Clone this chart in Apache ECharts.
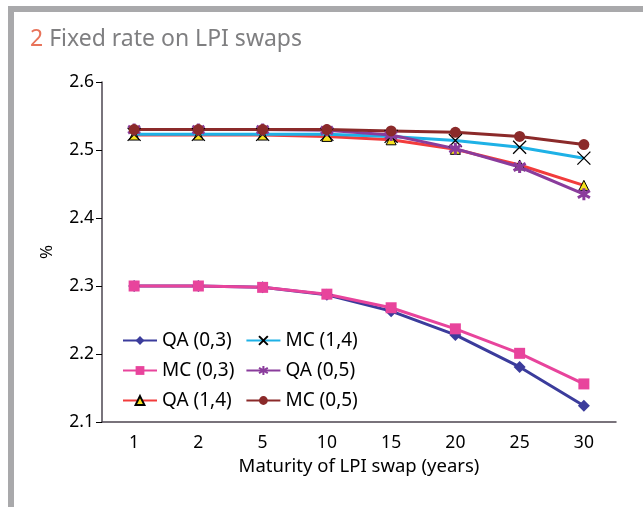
<!DOCTYPE html>
<html>
<head>
<meta charset="utf-8">
<script src="https://cdn.jsdelivr.net/npm/echarts@6/dist/echarts.min.js"></script>
<style>
  html, body { margin: 0; padding: 0; background: #fff; }
  #chart { width: 643px; height: 507px; }
</style>
</head>
<body>
<div id="chart"></div>
<script>
// maturities (years)
var maturities = ['1', '2', '5', '10', '15', '20', '25', '30'];

// fixed rate, %
var qa03 = [2.300, 2.300, 2.298, 2.287, 2.263, 2.228, 2.181, 2.124];
var mc03 = [2.300, 2.300, 2.298, 2.288, 2.268, 2.237, 2.201, 2.156];
var qa14 = [2.522, 2.522, 2.522, 2.520, 2.515, 2.501, 2.478, 2.448];
var mc14 = [2.523, 2.523, 2.523, 2.523, 2.520, 2.514, 2.504, 2.488];
var qa05 = [2.530, 2.530, 2.530, 2.529, 2.522, 2.502, 2.475, 2.435];
var mc05 = [2.530, 2.530, 2.530, 2.530, 2.528, 2.526, 2.520, 2.508];

var FONT = 'Noto Sans';

var crossPath = 'path://M0,0L10,10M10,0L0,10';
var starPath = 'path://M5,0L5,10M0,2L10,8M10,2L0,8';

function mk(name, data, color, symbol, size, itemStyle) {
    return {
        name: name,
        type: 'line',
        data: data,
        symbol: symbol,
        symbolSize: size,
        lineStyle: { color: color, width: 3 },
        itemStyle: itemStyle || { color: color },
        emphasis: { disabled: true }
    };
}

var chart = echarts.init(document.getElementById('chart'));

chart.setOption({
    animation: false,
    textStyle: { fontFamily: FONT },
    title: {
        text: '{n|2} Fixed rate on LPI swaps',
        left: 25,
        top: 23,
        textStyle: {
            fontSize: 23,
            fontWeight: 'normal',
            color: '#7f7f81',
            fontFamily: FONT,
            rich: { n: { fontSize: 23, color: '#e8735a', fontFamily: FONT } }
        }
    },
    graphic: [
        { type: 'rect', shape: { x: 8, y: 6, width: 635, height: 6 }, style: { fill: '#a9a9ab' } },
        { type: 'rect', shape: { x: 8, y: 6, width: 6, height: 501 }, style: { fill: '#a9a9ab' } }
    ],
    legend: {
        orient: 'vertical',
        left: 117,
        top: 326,
        height: 82,
        itemWidth: 34,
        itemHeight: 11,
        itemGap: 11,
        textStyle: { fontSize: 19, color: '#000', fontFamily: FONT },
        data: ['QA (0,3)', 'MC (0,3)', 'QA (1,4)', 'MC (1,4)', 'QA (0,5)', 'MC (0,5)']
    },
    grid: { left: 102, right: 27, top: 82, bottom: 85 },
    xAxis: {
        type: 'category',
        data: maturities,
        name: 'Maturity of LPI swap (years)',
        nameLocation: 'middle',
        nameGap: 34,
        nameTextStyle: { fontSize: 18.5, color: '#000' },
        axisLine: { lineStyle: { color: '#4d4650', width: 1.5 } },
        axisTick: { length: 6, lineStyle: { color: '#000' } },
        axisLabel: { fontSize: 17.5, color: '#000', margin: 12 },
        splitLine: { show: false }
    },
    yAxis: {
        type: 'value',
        min: 2.1,
        max: 2.6,
        interval: 0.1,
        name: '%',
        nameLocation: 'middle',
        nameGap: 46,
        nameTextStyle: { fontSize: 17, color: '#000' },
        axisLine: { show: true, lineStyle: { color: '#4d4650', width: 1.5 } },
        axisTick: { show: true, length: 6, lineStyle: { color: '#000' } },
        axisLabel: {
            fontSize: 17.5, color: '#000', margin: 8,
            formatter: function (v) { return v.toFixed(1); }
        },
        splitLine: { show: false }
    },
    series: [
        mk('QA (0,3)', qa03, '#3b3c9c', 'diamond', 12),
        mk('MC (0,3)', mc03, '#e8449c', 'rect', 11),
        mk('QA (1,4)', qa14, '#f23c3c', 'triangle', 10,
            { color: '#f7e21e', borderColor: '#000', borderWidth: 1 }),
        mk('MC (1,4)', mc14, '#1eb1e6', crossPath, 13,
            { color: 'none', borderColor: '#000', borderWidth: 1.3 }),
        mk('QA (0,5)', qa05, '#8a3c9c', starPath, 12,
            { color: 'none', borderColor: '#8a3c9c', borderWidth: 3 }),
        mk('MC (0,5)', mc05, '#8b2a2a', 'circle', 11)
    ]
});
</script>
</body>
</html>
